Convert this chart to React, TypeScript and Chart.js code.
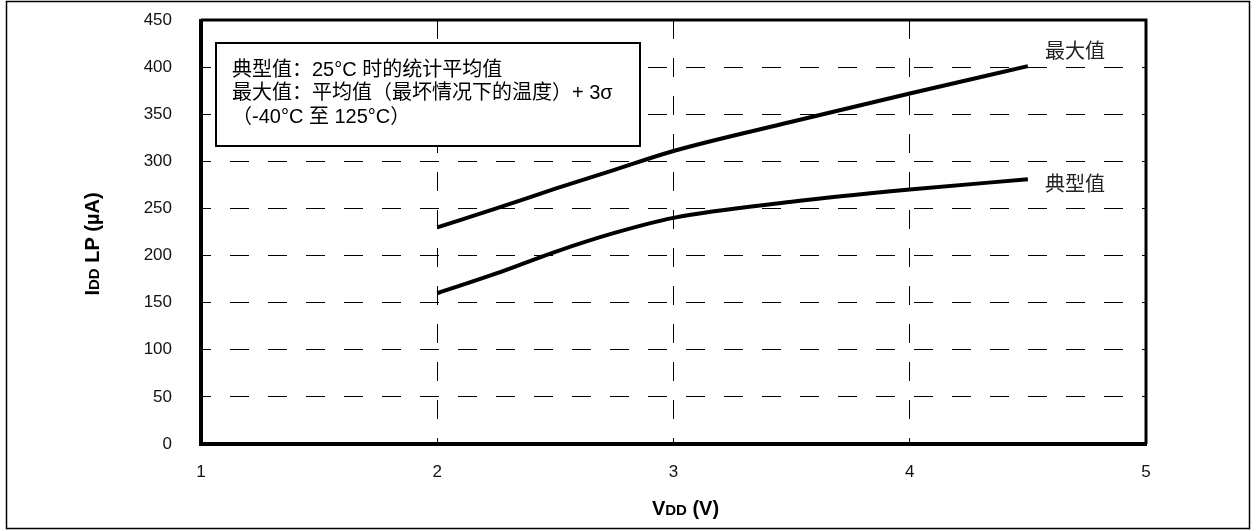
import React, { useEffect, useRef } from 'react';
import { Chart, registerables } from 'chart.js';

Chart.register(...registerables);

// ---- data ----
const vddValues = [2, 2.25, 2.5, 2.75, 3, 3.5, 4, 4.5];
const maxValues = [230, 250, 271, 291, 311, 342, 372, 401];
const typValues = [160, 181, 204, 224, 240, 257, 270, 281];
const seriesNames = ['最大值', '典型值'];
const xTickValues = [1, 2, 3, 4, 5];
const yTickValues = [0, 50, 100, 150, 200, 250, 300, 350, 400, 450];
const noteLines = [
  '典型值：25°C 时的统计平均值',
  '最大值：平均值（最坏情况下的温度）+ 3σ',
  '（-40°C 至 125°C）',
];
const xTitleParts: [string, number][] = [['V', 20], ['DD', 15], [' (V)', 20]];
const yTitleParts: [string, number][] = [['I', 20], ['DD', 15], [' LP (µA)', 20]];

const LATIN = '"Liberation Sans", Arial, sans-serif';
const MIXED = '"Liberation Sans", Arial, "Noto Sans CJK SC", sans-serif';

function drawParts(ctx: CanvasRenderingContext2D, parts: [string, number][], cx: number, cy: number, rotate: boolean) {
  ctx.save();
  ctx.translate(cx, cy);
  if (rotate) ctx.rotate(-Math.PI / 2);
  let total = 0;
  const widths = parts.map(([t, s]) => {
    ctx.font = `bold ${s}px ${LATIN}`;
    const w = ctx.measureText(t).width;
    total += w;
    return w;
  });
  let x = -total / 2;
  ctx.fillStyle = '#000';
  ctx.textBaseline = 'alphabetic';
  ctx.textAlign = 'left';
  parts.forEach(([t, s], i) => {
    ctx.font = `bold ${s}px ${LATIN}`;
    ctx.fillText(t, x, 7);
    x += widths[i];
  });
  ctx.restore();
}

const decorPlugin = {
  id: 'decor',
  afterDatasetsDraw(chart: any) {
    const { ctx, chartArea } = chart;
    const { left, right, top, bottom } = chartArea;
    ctx.save();
    // plot frame
    ctx.strokeStyle = '#000';
    ctx.lineWidth = 4;
    ctx.beginPath();
    ctx.moveTo(left, top - 1);
    ctx.lineTo(left, bottom);
    ctx.lineTo(right + 1, bottom);
    ctx.stroke();
    ctx.lineWidth = 3;
    ctx.beginPath();
    ctx.moveTo(left, top);
    ctx.lineTo(right, top);
    ctx.lineTo(right, bottom);
    ctx.stroke();

    // note box
    const bx = left + 15, by = top + 23, bw = 424, bh = 103;
    ctx.fillStyle = '#fff';
    ctx.fillRect(bx, by, bw, bh);
    ctx.lineWidth = 2;
    ctx.strokeRect(bx, by, bw, bh);
    ctx.fillStyle = '#000';
    ctx.font = `20px ${MIXED}`;
    ctx.textBaseline = 'middle';
    ctx.textAlign = 'left';
    noteLines.forEach((line, i) => {
      ctx.fillText(line, bx + 16, by + 27 + i * 23.5);
    });

    // series end labels
    const xs = chart.scales.x, ys = chart.scales.y;
    const lastX = vddValues[vddValues.length - 1];
    const ends = [maxValues[maxValues.length - 1], typValues[typValues.length - 1]];
    const offsets = [-16, 4];
    ctx.font = '20px "Noto Sans CJK SC", sans-serif';
    ctx.fillStyle = '#222';
    seriesNames.forEach((name, i) => {
      ctx.fillText(name, xs.getPixelForValue(lastX) + 17, ys.getPixelForValue(ends[i]) + offsets[i]);
    });

    // axis titles
    drawParts(ctx, xTitleParts, (left + right) / 2 + 12, bottom + 64, false);
    drawParts(ctx, yTitleParts, 92, (top + bottom) / 2 + 12, true);

    // outer border
    ctx.lineWidth = 1.5;
    ctx.strokeStyle = '#000';
    ctx.strokeRect(6.5, 1.5, 1243, 527);
    ctx.restore();
  },
};

export default function App() {
  const ref = useRef<HTMLCanvasElement>(null);
  useEffect(() => {
    if (!ref.current) return;
    const hideEdge = (min: number, max: number) => (c: any) =>
      c.tick && (c.tick.value === min || c.tick.value === max) ? 'rgba(0,0,0,0)' : '#000';
    const chart = new Chart(ref.current, {
      type: 'line',
      data: {
        datasets: [
          {
            label: seriesNames[0],
            data: vddValues.map((x, i) => ({ x, y: maxValues[i] })),
            borderColor: '#000',
            borderWidth: 4,
            pointRadius: 0,
            cubicInterpolationMode: 'monotone',
            fill: false,
          },
          {
            label: seriesNames[1],
            data: vddValues.map((x, i) => ({ x, y: typValues[i] })),
            borderColor: '#000',
            borderWidth: 4,
            pointRadius: 0,
            cubicInterpolationMode: 'monotone',
            fill: false,
          },
        ],
      },
      options: {
        responsive: false,
        animation: false,
        devicePixelRatio: 1,
        layout: { padding: { left: 0, top: 20, right: 110, bottom: 0 } },
        plugins: { legend: { display: false }, tooltip: { enabled: false }, title: { display: false } },
        scales: {
          x: {
            type: 'linear',
            min: xTickValues[0],
            max: xTickValues[xTickValues.length - 1],
            afterBuildTicks: (s: any) => { s.ticks = xTickValues.map((v) => ({ value: v })); },
            afterFit: (s: any) => { s.height = 87; s.paddingLeft = 0; s.paddingRight = 0; },
            grid: { color: hideEdge(1, 5), lineWidth: 1, drawTicks: false },
            border: { display: false, dash: [19, 19], dashOffset: 0 },
            ticks: { color: '#111', font: { family: LATIN, size: 17 }, padding: 18, maxRotation: 0 },
          },
          y: {
            type: 'linear',
            min: yTickValues[0],
            max: yTickValues[yTickValues.length - 1],
            afterBuildTicks: (s: any) => { s.ticks = yTickValues.map((v) => ({ value: v })); },
            afterFit: (s: any) => { s.width = 201; s.paddingTop = 0; s.paddingBottom = 0; },
            grid: { color: hideEdge(0, 450), lineWidth: 1, drawTicks: false },
            border: { display: false, dash: [19, 19], dashOffset: 9 },
            ticks: { color: '#111', font: { family: LATIN, size: 17 }, padding: 29 },
          },
        },
      },
      plugins: [decorPlugin],
    } as any);
    return () => chart.destroy();
  }, []);
  return (
    <div style={{ position: 'absolute', left: 0, top: 0, width: 1256, height: 531, background: '#fff' }}>
      <canvas ref={ref} width={1256} height={531} style={{ display: 'block' }} />
    </div>
  );
}
